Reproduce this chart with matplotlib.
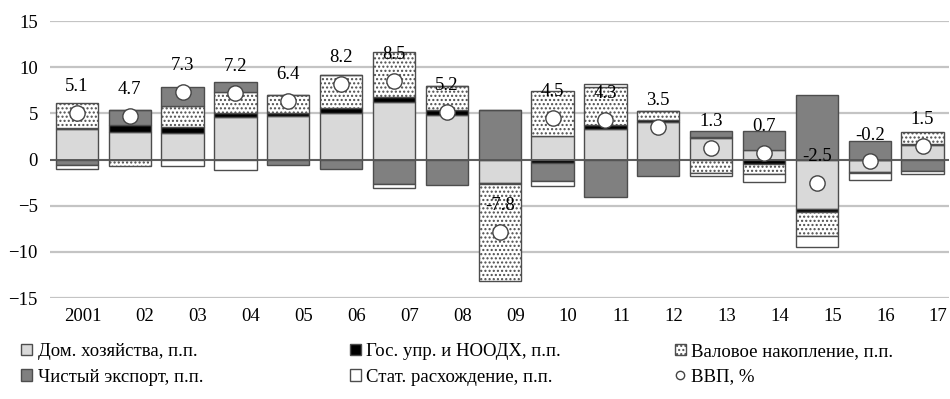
import numpy as np
import matplotlib.pyplot as plt
from matplotlib.patches import Patch
from matplotlib.lines import Line2D

plt.rcParams['font.family'] = ['Liberation Serif', 'DejaVu Serif']
plt.rcParams['hatch.linewidth'] = 1.0

years = ['2001', '02', '03', '04', '05', '06', '07', '08', '09', '10',
         '11', '12', '13', '14', '15', '16', '17']

# вклады в рост ВВП, п.п.
households = [3.3, 3.0, 2.9, 4.6, 4.7, 5.1, 6.2, 4.8, -2.5, 2.6,
              3.3, 4.05, 2.3, 1.05, -5.35, -1.3, 1.6]
government = [0.1, 0.7, 0.6, 0.5, 0.3, 0.5, 0.55, 0.6, -0.1, -0.35,
              0.4, 0.25, 0.2, -0.45, -0.35, 0.0, 0.1]
accumulation = [2.7, -0.65, 2.3, 2.2, 2.0, 3.6, 4.9, 2.6, -10.6, 4.8,
                4.2, 1.0, -1.4, -1.1, -2.55, -0.15, 1.3]
net_export = [-0.6, 1.7, 2.1, 1.1, -0.6, -1.0, -2.6, -2.8, 5.4, -1.95,
              -4.0, -1.75, 0.6, 2.05, 6.95, 2.05, -1.2]
discrepancy = [-0.4, 0.0, -0.65, -1.1, 0.0, 0.0, -0.5, 0.0, 0.0, -0.55,
               0.3, 0.0, -0.4, -0.9, -1.25, -0.75, -0.35]
gdp = [5.1, 4.7, 7.3, 7.2, 6.4, 8.2, 8.5, 5.2, -7.8, 4.5,
       4.3, 3.5, 1.3, 0.7, -2.5, -0.2, 1.5]

fig = plt.figure(figsize=(9.5, 3.99), dpi=100)
ax = fig.add_axes([0.053, 0.253, 0.946, 0.694])

x = np.arange(len(years))
w = 0.8
edge = '#4d4d4d'

series = [
    (households, dict(color='#d9d9d9'), 'Дом. хозяйства, п.п.'),
    (government, dict(color='black'), 'Гос. упр. и НООДХ, п.п.'),
    (accumulation, dict(color='white', hatch='....'), 'Валовое накопление, п.п.'),
    (net_export, dict(color='#808080'), 'Чистый экспорт, п.п.'),
    (discrepancy, dict(color='white'), 'Стат. расхождение, п.п.'),
]

pos = np.zeros(len(years))
neg = np.zeros(len(years))
handles = []
for vals, style, label in series:
    v = np.array(vals)
    bottom = np.where(v >= 0, pos, neg)
    ax.bar(x, v, w, bottom=bottom, edgecolor=edge, linewidth=1.0, zorder=3, **style)
    pos = pos + np.where(v > 0, v, 0)
    neg = neg + np.where(v < 0, v, 0)
    handles.append(Patch(facecolor=style['color'], hatch=style.get('hatch'),
                         edgecolor=edge, label=label))

ax.plot(x, gdp, 'o', ms=11, mfc='white', mec='#444444', mew=1.0, zorder=5)
handles.append(Line2D([], [], marker='o', ls='none', ms=6, mfc='white',
                      mec='#444444', label='ВВП, %'))

for xi, g in zip(x, gdp):
    ax.annotate(f'{g:.1f}', (xi, g), xytext=(0, 19), textcoords='offset points',
                ha='center', va='center', fontsize=13.5, zorder=6)

ax.axhline(0, color='#555555', lw=1.3, zorder=4)
ax.set_ylim(-15, 15)
ax.set_xlim(-0.5, len(years) - 0.5)
ax.set_yticks(range(-15, 16, 5))
ax.set_yticklabels(['−15', '−10', '−5', '0', '5', '10', '15'])
# подписи годов выровнены по правому краю столбца
ax.set_xticks(x + 0.47)
ax.set_xticklabels(years, ha='right')
ax.grid(axis='y', color='#c4c4c4', lw=1.6, zorder=0)
ax.set_axisbelow(True)
for s in ax.spines.values():
    s.set_visible(False)
ax.tick_params(length=0, labelsize=13.5)
ax.tick_params(axis='x', pad=7)
ax.tick_params(axis='y', pad=9)

# легенда: три колонки по две строки
cols = [(handles[0], handles[3]), (handles[1], handles[4]), (handles[2], handles[5])]
col_x = [0.022, 0.368, 0.71]
for cx, hs in zip(col_x, cols):
    fig.legend(list(hs), [h.get_label() for h in hs], loc='upper left',
               bbox_to_anchor=(cx, 0.14), frameon=False, fontsize=13.5,
               handlelength=0.6, handleheight=0.6, handletextpad=0.3,
               labelspacing=0.45, borderpad=0, borderaxespad=0)

fig.savefig('out.png', dpi=100)
